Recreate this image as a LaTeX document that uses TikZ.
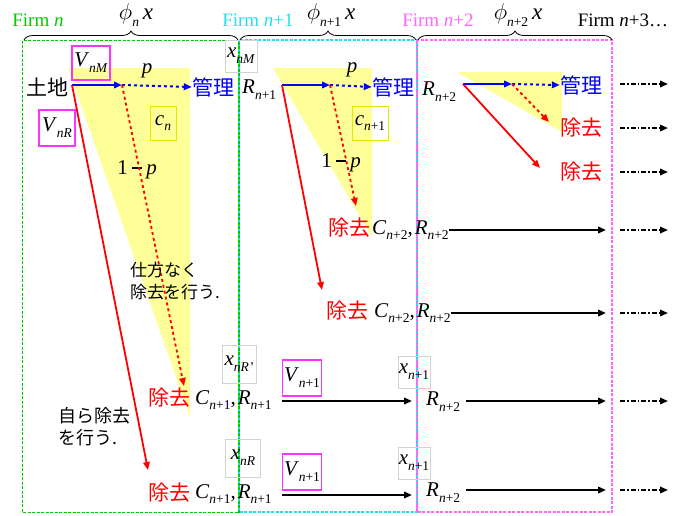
\RequirePackage{fix-cm}
\documentclass[tikz,border=0pt]{standalone}
\usepackage{fontspec}
\setmainfont{Liberation Serif}
\newfontfamily\jp{Noto Sans CJK JP}
\usetikzlibrary{arrows.meta,decorations.pathreplacing}
\definecolor{fgreen}{HTML}{00CC00}
\definecolor{fcyan}{HTML}{22E0EE}
\definecolor{fmag}{HTML}{FF66FF}
\definecolor{vmag}{HTML}{FF33FF}
\definecolor{yel}{HTML}{FFFF99}
\definecolor{ybox}{HTML}{E6E600}
\definecolor{jred}{HTML}{FF0000}
\definecolor{jblue}{HTML}{0000FF}
\newcommand{\ms}[2]{\textit{#1}\raisebox{-0.28em}{\fontsize{13.5}{14}\selectfont #2}}
\newcommand{\nn}[1]{\textit{n}+#1}
\newcommand{\omp}{1\kern4pt\rule[0.26em]{0.5em}{2.2pt}\kern4pt\textit{p}}
\begin{document}
\begin{tikzpicture}[x=1pt,y=-1pt,
  jpb/.style={font=\jp\fontsize{21}{23}\selectfont,inner sep=0pt},
  jps/.style={font=\jp\fontsize{17}{22}\selectfont,inner sep=0pt,align=left},
  mt/.style={font=\fontsize{21}{23}\selectfont,inner sep=0pt},
  firmlbl/.style={font=\fontsize{19}{21}\selectfont,inner sep=0pt},
  phil/.style={font=\fontsize{23}{25}\selectfont,inner sep=0pt},
  gbox/.style={draw=gray!35,line width=1pt,font=\fontsize{21}{23}\selectfont,inner sep=0pt},
  mbox/.style={draw=vmag,line width=1.2pt,font=\fontsize{21}{23}\selectfont,inner sep=0pt},
  ybx/.style={draw=ybox,line width=1pt,font=\fontsize{21}{23}\selectfont,inner sep=0pt},
  tip/.style={-{Triangle[length=8pt,width=6.5pt]}},
  barr/.style={tip,jblue,line width=2pt},
  rarr/.style={tip,jred,line width=1.8pt},
  karr/.style={tip,black,line width=2pt},
  ddarr/.style={tip,black,line width=1.8pt,dash pattern=on 5pt off 2pt on 1.5pt off 2pt},
  fbox/.style={line width=1.5pt,dash pattern=on 3pt off 1.5pt},
  brc/.style={decorate,decoration={brace,amplitude=9pt},line width=0.8pt}
]
\useasboundingbox (0,0) rectangle (686,515);
% yellow fills
\fill[yel] (68,68) -- (190,68) -- (190,417) -- cycle;
\fill[yel] (273,68) -- (372,68) -- (372,237) -- cycle;
\fill[yel] (457,72) -- (562,72) -- (562,132) -- cycle;
% firm boxes
\draw[fbox,fcyan] (239,40) rectangle (417,512);
\draw[fbox,fgreen] (22.5,40.5) rectangle (239,512.5);
\draw[fbox,fmag] (417,40) rectangle (612,512);
% braces
\draw[brc] (24,40) -- (238,40);
\draw[brc] (240,40) -- (416,40);
\draw[brc] (418,40) -- (612,40);
% top labels
\node[firmlbl,text=fgreen] (f0) at (38,20) {Firm \textit{n}};
\node[firmlbl,text=fcyan] (f1) at (258,20) {Firm \textit{n}+1};
\node[firmlbl,text=fmag] (f2) at (438,20) {Firm \textit{n}+2};
\node[firmlbl] (f3) at (623,20) {Firm \textit{n}+3\dots};
\node[phil] (ph0) at (136,15) {\ms{$\phi$}{\textit{n}}\,\textit{x}};
\node[phil] (ph1) at (331,15) {\ms{$\phi$}{\nn1}\,\textit{x}};
\node[phil] (ph2) at (518,15) {\ms{$\phi$}{\nn2}\,\textit{x}};
% row 1, firm n
\node[jpb] (tochi) at (48,87) {土地};
\coordinate (s0) at (72,85);
\coordinate (m0) at (122,85);
\node[jpb,text=jblue] (kan0) at (213,87) {管理};
\node[mbox,minimum width=38pt,minimum height=34pt] (vnm) at (91,63) {\ms{V}{\textit{nM}}};
\node[mbox,minimum width=36pt,minimum height=36pt] (vnr) at (57,128) {\ms{V}{\textit{nR}}};
\node[mt] (p0) at (147,71) {\textit{p}};
\node[ybx,minimum width=26pt,minimum height=34pt] (cn) at (163,123) {\ms{c}{\textit{n}}};
\node[mt] (q0) at (137,170) {\omp};
\node[gbox,minimum width=32pt,minimum height=32pt] (xnm) at (241,56) {\ms{x}{\textit{nM}}};
\draw[barr] (s0) -- (m0);
\draw[barr,dashed] (m0) -- (kan0.west);
% row 1, firm n+1
\node[mt,anchor=west] (r1) at (242,90) {\ms{R}{\nn1}};
\coordinate (s1) at (282,85);
\coordinate (m1) at (330,85);
\node[jpb,text=jblue] (kan1) at (393,87) {管理};
\node[mt] (p1) at (352,70) {\textit{p}};
\node[ybx,minimum width=36pt,minimum height=34pt] (cn1) at (370,123) {\ms{c}{\nn1}};
\node[mt] (q1) at (341,163) {\omp};
\draw[barr] (s1) -- (m1);
\draw[barr,dashed] (m1) -- (kan1.west);
% row 1, firm n+2
\node[mt,anchor=west] (r2) at (422,92) {\ms{R}{\nn2}};
\coordinate (s2) at (463,84);
\coordinate (m2) at (512,84);
\node[jpb,text=jblue] (kan2) at (581,85) {管理};
\node[jpb,text=jred] (jo2a) at (581,128) {除去};
\node[jpb,text=jred] (jo2b) at (581,172) {除去};
\coordinate (e2a) at (549,122);
\coordinate (e2b) at (540,168);
\draw[barr] (s2) -- (m2);
\draw[barr,dashed] (m2) -- (kan2.west);
\draw[rarr,dashed] (m2) -- (e2a);
\draw[rarr] (s2) -- (e2b);
% row C (y 228)
\node[jpb,text=jred] (joC) at (349,228) {除去};
\node[mt,anchor=west] (mC) at (372,230) {\ms{C}{\nn2},\kern2pt\ms{R}{\nn2}};
\coordinate (eC) at (356,206);
\draw[rarr,dashed] (m1) -- (eC);
% row D (y 311)
\node[jpb,text=jred] (joD) at (347,311) {除去};
\node[mt,anchor=west] (mD) at (374,313) {\ms{C}{\nn2},\kern2pt\ms{R}{\nn2}};
\coordinate (eD) at (322,290);
\draw[rarr] (s1) -- (eD);
% row E (y 400)
\node[jpb,text=jred] (joE) at (169,398) {除去};
\node[mt,anchor=west] (mE) at (195,400) {\ms{C}{\nn1},\kern2pt\ms{R}{\nn1}};
\coordinate (eE) at (184,386);
\draw[rarr,dashed] (m0) -- (eE);
\node[gbox,minimum width=34pt,minimum height=38pt] (xnr1) at (239,364) {\ms{x}{\textit{nR'}}};
\node[mbox,minimum width=39pt,minimum height=36pt] (vE) at (302,378) {\ms{V}{\nn1}};
\node[gbox,minimum width=32pt,minimum height=32pt] (xE) at (414,372) {\ms{x}{\nn1}};
\node[mt,anchor=west] (rE) at (426,402) {\ms{R}{\nn2}};
% row F (y 493)
\node[jpb,text=jred] (joF) at (169,493) {除去};
\node[mt,anchor=west] (mF) at (195,494) {\ms{C}{\nn1},\kern2pt\ms{R}{\nn1}};
\coordinate (eF) at (148,470);
\draw[rarr] (s0) -- (eF);
\node[gbox,minimum width=35pt,minimum height=38pt] (xnr) at (243,458) {\ms{x}{\textit{nR}}};
\node[mbox,minimum width=39pt,minimum height=36pt] (vF) at (302,472) {\ms{V}{\nn1}};
\node[gbox,minimum width=32pt,minimum height=32pt] (xF) at (414,463) {\ms{x}{\nn1}};
\node[mt,anchor=west] (rF) at (426,493) {\ms{R}{\nn2}};
% notes
\node[jps,anchor=north west] (n1) at (130,262) {仕方なく\\除去を行う.};
\node[jps,anchor=north west,font=\jp\fontsize{18}{22}\selectfont] (n2) at (58,407) {自ら除去\\を行う.};
% black arrows
\coordinate (aE0) at (282,401); \coordinate (aE1) at (412,401);
\draw[karr] (aE0) -- (aE1);
\coordinate (aF0) at (282,495); \coordinate (aF1) at (412,495);
\draw[karr] (aF0) -- (aF1);
\coordinate (bC) at (606,230); \draw[karr] (mC.east |- bC) -- (bC);
\coordinate (bD) at (606,313); \draw[karr] (mD.east |- bD) -- (bD);
\coordinate (bE) at (606,401); \draw[karr] (466,401) -- (bE);
\coordinate (bF) at (606,490); \draw[karr] (466,490) -- (bF);
% dash-dot arrows
\foreach \y/\n in {84/a,128/b,172/c,230/d,313/e,401/f,490/g}{
  \coordinate (dd\n0) at (620,\y); \coordinate (dd\n1) at (668,\y);
  \draw[ddarr] (dd\n0) -- (dd\n1);
}
\end{tikzpicture}
\end{document}
